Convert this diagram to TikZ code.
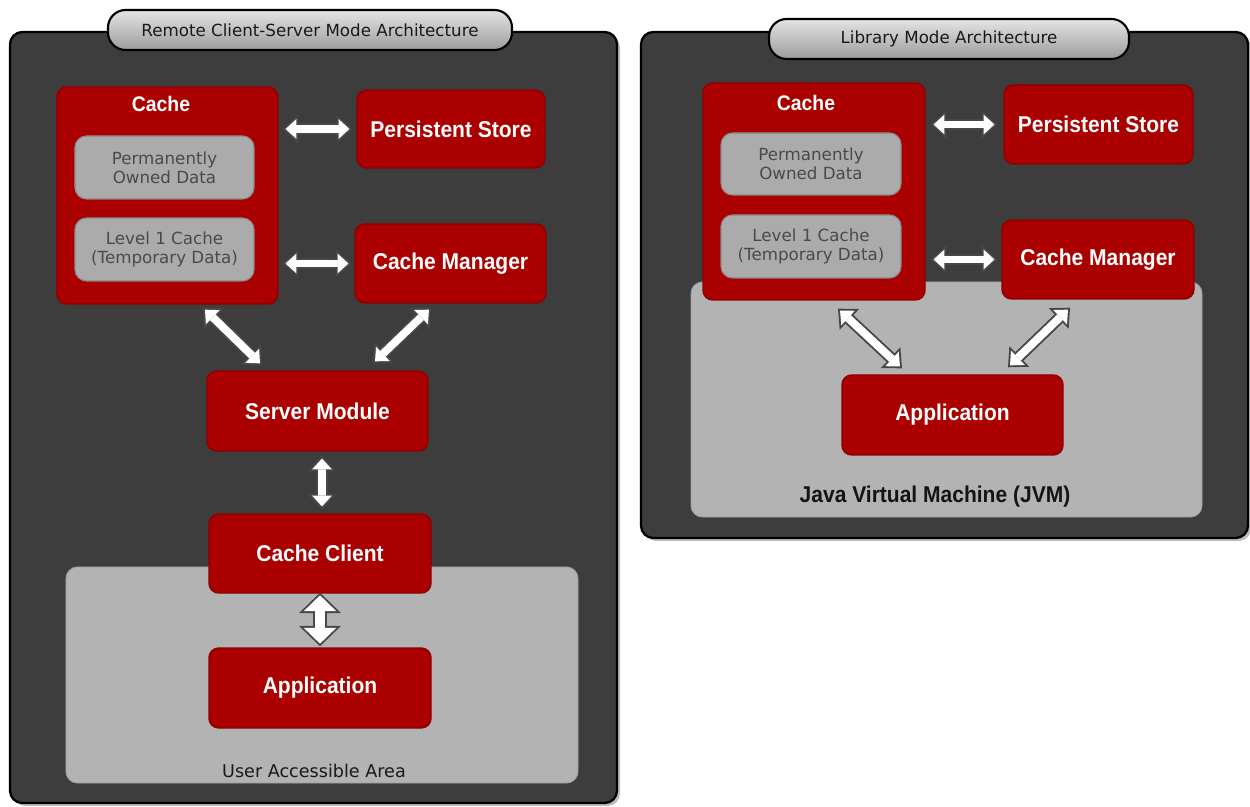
\documentclass[tikz,border=0pt]{standalone}
\usepackage{fontspec}
\setmainfont{DejaVu Sans}
\newfontfamily\boxfont{Liberation Sans}[FakeStretch=0.92]
\usetikzlibrary{arrows.meta,calc}

\definecolor{panelgray}{HTML}{3D3D3D}
\definecolor{panelshade}{HTML}{BDBDBD}
\definecolor{areagray}{HTML}{B3B3B3}
\definecolor{boxred}{HTML}{AA0000}
\definecolor{boxedge}{HTML}{8E0000}
\definecolor{innergray}{HTML}{ABABAB}
\definecolor{innertext}{HTML}{4A4A4A}
\definecolor{pilltop}{HTML}{E4E4E4}
\definecolor{pillbottom}{HTML}{9C9C9C}
\definecolor{linkline}{HTML}{474747}

\tikzset{
  panel/.style={draw=black, line width=1.3pt, fill=panelgray, rounded corners=7pt},
  area/.style={draw=areagray!88!black, line width=0.5pt, fill=areagray, rounded corners=6.5pt},
  pill/.style={draw=black, line width=1.2pt, top color=pilltop, bottom color=pillbottom,
    rounded corners=10pt, text=black!90, font=\fontsize{9.5}{11}\selectfont},
  redbox/.style={draw=boxedge, line width=0.8pt, fill=boxred, rounded corners=5.5pt,
    text=white, font=\boxfont\bfseries\fontsize{13}{15}\selectfont},
  cachetitle/.style={text=white, font=\boxfont\bfseries\fontsize{12}{14}\selectfont},
  innerbox/.style={draw=innergray!80!black, line width=0.6pt, fill=innergray,
    rounded corners=6.5pt, text=innertext, align=center,
    font=\fontsize{9.5}{11}\selectfont},
  %% two-way block arrows: dark outline first, white body on top
  link outer/.style={draw=linkline, line width=6.7pt,
    {Triangle[width=16.3pt,length=8.9pt,line width=0pt]}-{Triangle[width=16.3pt,length=8.9pt,line width=0pt]}},
  link inner/.style={draw=white, line width=4.5pt, shorten <=1.6pt, shorten >=1.6pt,
    {Triangle[width=11.3pt,length=6.2pt,line width=0pt]}-{Triangle[width=11.3pt,length=6.2pt,line width=0pt]}},
  big link outer/.style={draw=linkline, line width=7.6pt,
    {Triangle[width=23.9pt,length=11.6pt,line width=0pt]}-{Triangle[width=23.9pt,length=11.6pt,line width=0pt]}},
  big link inner/.style={draw=white, line width=5.4pt, shorten <=1.5pt, shorten >=1.5pt,
    {Triangle[width=18.5pt,length=9pt,line width=0pt]}-{Triangle[width=18.5pt,length=9pt,line width=0pt]}},
}
\newcommand{\duplex}[3][]{%
  \draw[#1link outer] #2 -- #3;
  \draw[#1link inner] #2 -- #3;}

\begin{document}
\begin{tikzpicture}[x=0.2mm, y=-0.2mm]
  \useasboundingbox (0,0) rectangle (1250,807);

  %% Remote client-server mode, on left
  \fill[panelshade, rounded corners=7pt] (13,35) rectangle (620,806);
  \draw[panel] (10,32) rectangle (617,803);
  \node[pill, minimum width=8.08cm, minimum height=0.8cm] (titleL) at (310,30)
    {Remote Client-Server Mode Architecture};
  \node[area, minimum width=10.24cm, minimum height=4.32cm] (userArea) at (322,675) {};
  \node[anchor=base, text=black!90, font=\fontsize{10}{12}\selectfont] (userLabel)
    at (314,777) {User Accessible Area};

  \node[redbox, minimum width=4.42cm, minimum height=4.34cm] (cacheL) at (167.5,195.5) {};
  \node[cachetitle] (cacheLtitle) at (161,104) {Cache};
  \node[innerbox, minimum width=3.58cm, minimum height=1.26cm] (ownedL) at (164.5,167.5)
    {Permanently\\Owned Data};
  \node[innerbox, minimum width=3.58cm, minimum height=1.26cm] (levelL) at (164.5,249.5)
    {Level 1 Cache\\(Temporary Data)};
  \node[redbox, minimum width=3.76cm, minimum height=1.56cm] (storeL) at (451,129) {Persistent Store};
  \node[redbox, minimum width=3.82cm, minimum height=1.58cm] (managerL) at (450.5,263.5) {Cache Manager};
  \node[redbox, minimum width=4.42cm, minimum height=1.6cm] (serverL) at (317.5,411) {Server Module};
  \node[redbox, minimum width=4.44cm, minimum height=1.58cm] (clientL) at (320,553.5) {Cache Client};
  \node[redbox, minimum width=4.44cm, minimum height=1.6cm] (appL) at (320,688) {Application};

  \duplex{($(cacheL.east |- storeL.west)+(4,0)$)}{($(storeL.west)+(-4,0)$)}
  \duplex{($(cacheL.east |- managerL.west)+(4,0)$)}{($(managerL.west)+(-3,0)$)}
  \duplex{($(cacheL.south)+(35.5,3)$)}{($(serverL.north)+(-55.5,-5)$)}
  \duplex{($(managerL.south)+(-19.5,4)$)}{($(serverL.north)+(55.5,-7)$)}
  \duplex{($(serverL.south)+(4.5,4)$)}{($(clientL.north)+(2,-4)$)}
  \duplex[big ]{($(clientL.south)+(0,-1)$)}{($(appL.north)+(0,-1)$)}

  %% Library mode, on right
  \fill[panelshade, rounded corners=7pt] (644,35) rectangle (1251,541);
  \draw[panel] (641,32) rectangle (1248,538);
  \node[pill, minimum width=7.2cm, minimum height=0.8cm] (titleR) at (949,39)
    {Library Mode Architecture};
  \node[area, minimum width=10.22cm, minimum height=4.7cm] (jvmArea) at (946.5,399.5) {};
  \node[anchor=base, text=black!92, font=\boxfont\bfseries\fontsize{13}{15}\selectfont] (jvmLabel)
    at (935,502) {Java Virtual Machine (JVM)};

  \node[redbox, minimum width=4.44cm, minimum height=4.34cm] (cacheR) at (814,191.5) {};
  \node[cachetitle] (cacheRtitle) at (806,103) {Cache};
  \node[innerbox, minimum width=3.6cm, minimum height=1.24cm] (ownedR) at (811,164)
    {Permanently\\Owned Data};
  \node[innerbox, minimum width=3.6cm, minimum height=1.26cm] (levelR) at (811,246.5)
    {Level 1 Cache\\(Temporary Data)};
  \node[redbox, minimum width=3.78cm, minimum height=1.58cm] (storeR) at (1098.5,124.5) {Persistent Store};
  \node[redbox, minimum width=3.84cm, minimum height=1.58cm] (managerR) at (1098,259.5) {Cache Manager};
  \node[redbox, minimum width=4.42cm, minimum height=1.6cm] (appR) at (952.5,415) {Application};

  \duplex{($(cacheR.east |- storeR.west)+(5,0)$)}{($(storeR.west)+(-6,0)$)}
  \duplex{($(cacheR.east |- managerR.west)+(5,0)$)}{($(managerR.west)+(-4,0)$)}
  \duplex{($(cacheR.south)+(24,8)$)}{($(appR.north)+(-50.5,-6)$)}
  \duplex{($(managerR.south)+(-28,8)$)}{($(appR.north)+(55.5,-7)$)}
\end{tikzpicture}
\end{document}
